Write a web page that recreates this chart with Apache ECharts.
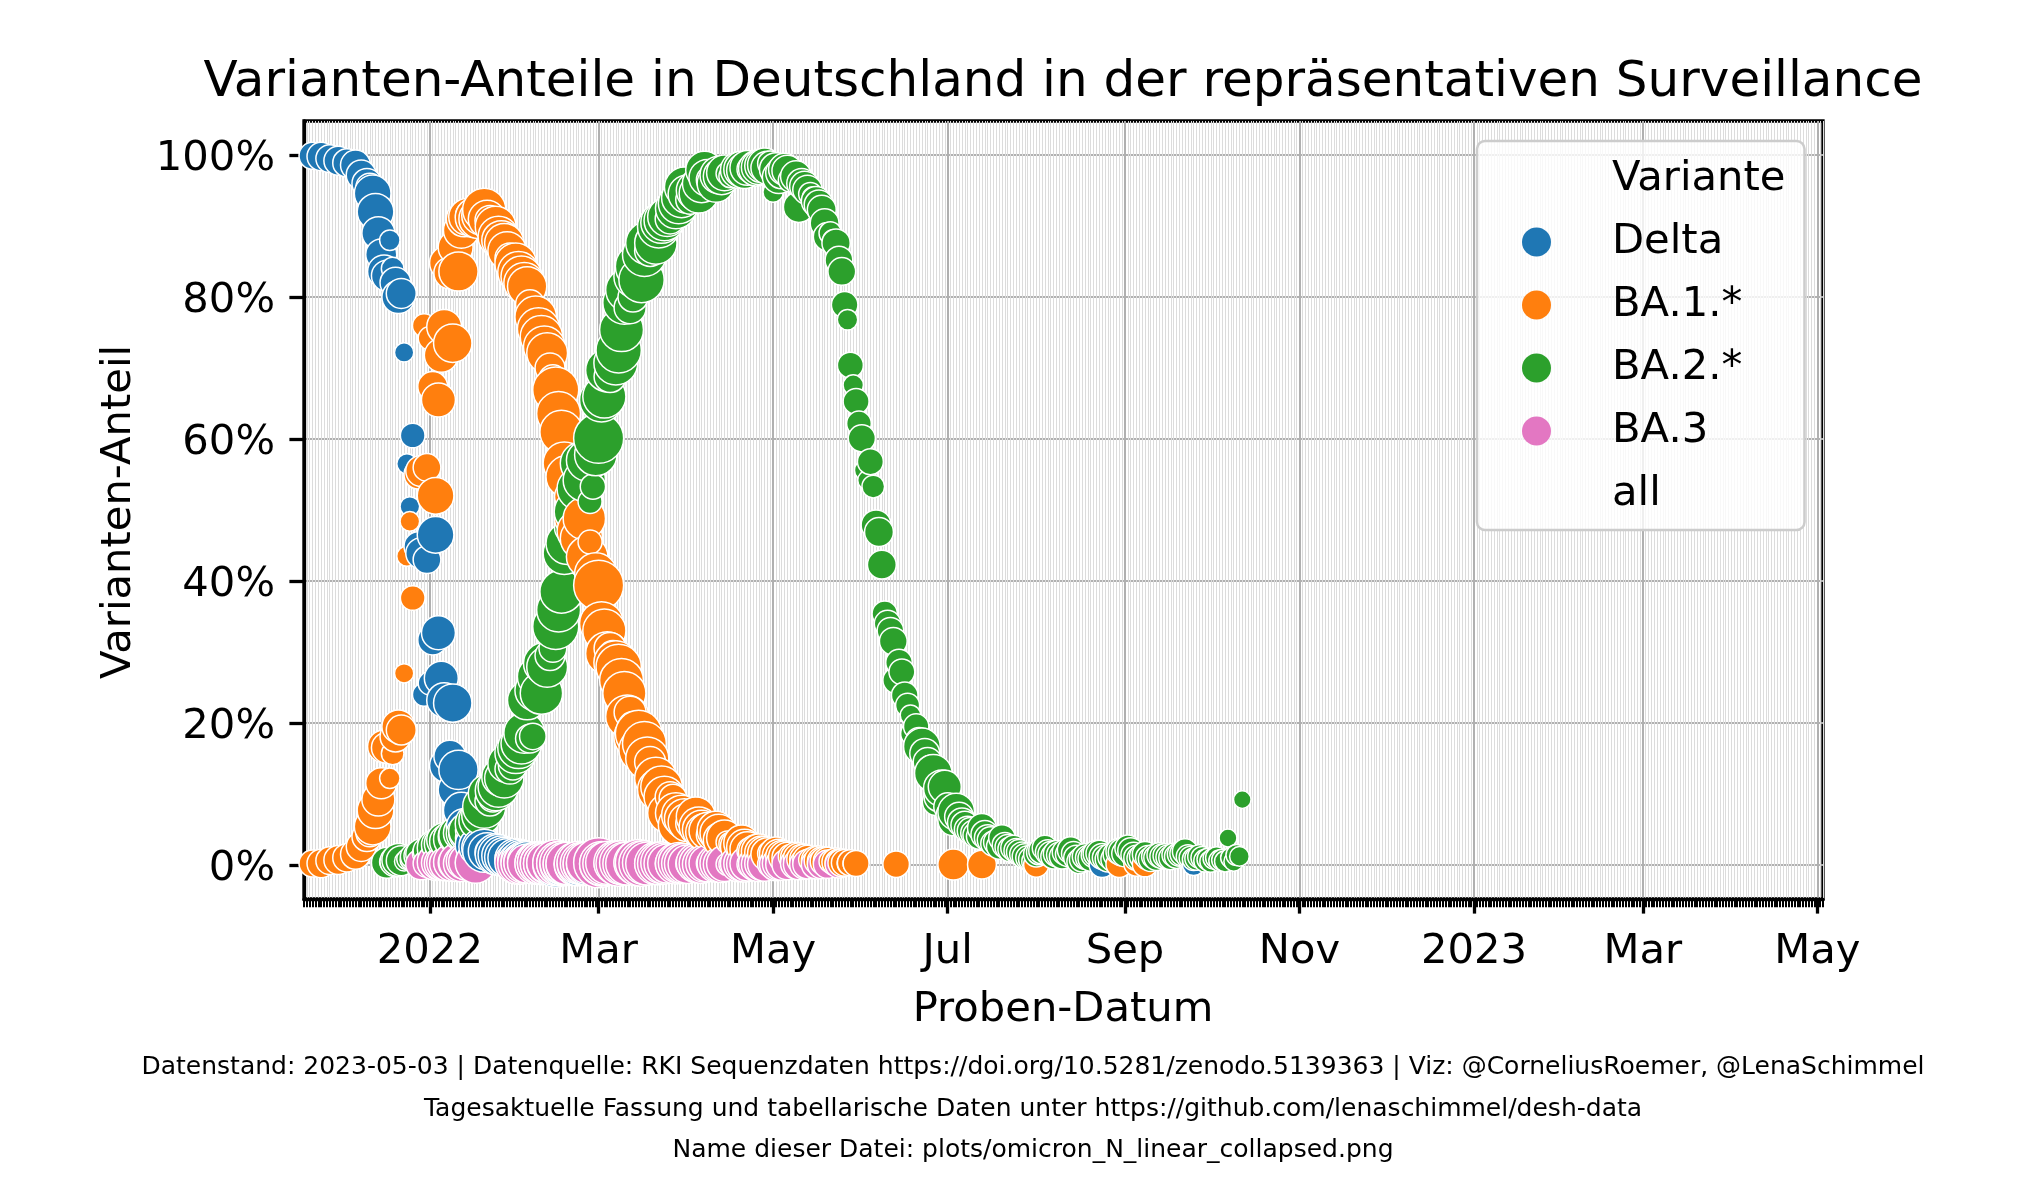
<!DOCTYPE html>
<html><head><meta charset="utf-8">
<script src="https://cdn.jsdelivr.net/npm/echarts@6.0.0/dist/echarts.min.js"></script>
<style>html,body{margin:0;padding:0;background:#fff}#c{width:2025px;height:1200px}</style>
</head><body><div id="c"></div>
<script>
// ---------- data (one entry per day, starting at firstDay; rows = weeks Sat..Fri) ----------
const firstDay = '2021-11-20';
const tickDates = ['2022-01-01','2022-03-01','2022-05-01','2022-07-01','2022-09-01','2022-11-01','2023-01-01','2023-03-01','2023-05-01'];
const tickLabels = ['2022','Mar','May','Jul','Sep','Nov','2023','Mar','May'];
const yTicks = [0, 20, 40, 60, 80, 100];
const variants = ['Delta', 'BA.1.*', 'BA.2.*', 'BA.3'];

// number of sequences per day ("all")
const allSeq = [
 750,750,750,850,850,750,750,
 800,650,850,900,900,850,850,
 700,650,1000,1100,1000,1000,1000,
 800,1700,1700,1300,1100,1300,1100,
 250,400,1100,1300,1000,180,250,
 200,550,250,900,1100,450,800,
 450,1000,1700,1400,1400,1500,1500,
 1200,1900,1500,2000,1600,1600,1700,
 900,800,2200,2000,2000,2500,1800,
 1000,900,2200,2200,2000,2000,1900,
 1000,900,2300,2300,2200,2200,2000,
 900,700,2300,2400,2400,2300,2200,
 1000,800,2900,2600,2500,2400,2400,
 1100,800,2500,2500,2400,2400,2300,
 500,600,2400,3500,2600,2500,2500,
 1200,1000,2600,2800,2600,2500,2500,
 1200,1000,2600,3000,2800,2600,2500,
 1100,900,2400,2400,2300,2200,2000,
 1000,800,2200,2200,2100,2100,1900,
 900,700,2000,2000,1900,1800,1700,
 800,600,1800,1800,1700,1600,400,
 400,300,300,1700,1600,1600,1500,
 700,500,1500,1500,1400,1400,1300,
 600,250,1300,1300,1200,1200,1100,
 500,400,1100,1100,1000,1000,950,
 450,350,950,950,900,900,850,
 400,300,850,800,800,700,250,
 650,250,650,550,750,250,200,
 650,400,1000,900,900,600,700,
 700,800,700,700,650,700,500,
 250,600,600,700,1700,1000,900,
 800,1800,800,1000,1700,1300,800,
 900,1100,1700,900,900,800,700,
 700,600,700,600,900,800,700,
 700,600,600,600,700,600,600,
 600,600,550,600,550,600,500,
 500,450,600,600,700,600,550,
 600,600,650,600,600,600,550,
 700,500,600,550,600,600,550,
 600,550,700,700,650,600,600,
 650,600,700,700,800,700,650,
 650,600,600,550,600,600,550,
 550,500,600,550,550,500,500,
 500,450,500,500,550,600,450,
 450,400,450,450,400,400,350,
 350,300,350,300,300,300,100,
 250,200,300,200,80,null,null
];

// share in percent, null = not plotted
const delta = [
 null,99.9,null,null,99.8,null,null,
 99.5,null,null,99.2,null,null,98.9,
 null,null,98.6,null,97.2,null,96.0,
 95.5,94.6,92.0,89.0,86.0,83.6,83.0,
 88.0,84.0,82.0,80.0,80.5,72.2,56.5,
 50.5,60.5,54.5,44.9,43.9,24.0,43.0,
 25.6,31.7,46.5,32.7,26.3,23.2,14.0,
 15.3,22.8,10.6,13.4,7.7,5.4,4.5,
 3.8,3.0,2.8,2.6,2.4,2.0,1.9,
 1.8,1.6,1.5,1.4,1.3,1.1,1.0,
 0.9,0.8,0.8,0.7,0.6,0.5,0.5,
 0.4,0.4,0.3,0.3,0.3,0.2,0.2,
 0.2,0.2,0.1,0.2,0.1,0.1,0.1,
 0.1,null,0.1,0.1,null,0.1,0.1,
 null,0.1,0.1,null,0.1,null,null,
 null,null,null,null,null,null,null,
 null,null,null,null,null,null,null,
 null,null,null,null,null,null,null,
 null,null,null,null,null,null,null,
 null,null,null,null,null,null,null,
 null,null,null,null,null,null,null,
 null,null,null,null,null,null,null,
 null,null,null,null,null,null,null,
 null,null,null,null,null,null,null,
 null,null,null,null,null,null,null,
 null,null,null,null,null,null,null,
 null,null,null,null,null,null,null,
 null,null,null,null,null,null,null,
 null,null,null,null,null,null,null,
 null,null,null,null,null,null,null,
 null,null,null,null,null,null,null,
 null,null,null,null,null,null,null,
 null,null,null,null,null,null,null,
 null,null,null,null,null,null,null,
 null,null,null,null,null,null,null,
 null,null,null,null,null,null,null,
 null,null,null,null,null,null,null,
 null,null,null,null,null,null,null,
 null,null,null,null,null,null,null,
 null,null,null,null,0.05,null,null,
 null,null,null,null,null,null,null,
 null,null,null,null,null,null,null,
 null,null,null,null,null,null,null,
 null,null,null,null,null,null,null,
 null,0.1,null,null,null,null,null,
 null,null,null,null,null,null,null,
 null,null,null,null,null,null,null
];

const ba1 = [
 null,0.2,null,null,0.2,null,null,
 0.6,null,null,0.7,null,null,1.0,
 null,null,1.5,null,2.6,null,4.0,
 4.5,5.4,7.7,9.2,11.5,16.7,16.5,
 12.2,15.7,18.1,19.5,19.0,27.0,43.5,
 48.4,37.6,45.0,55.0,55.5,76.0,56.0,
 74.2,67.4,52.0,65.5,71.8,75.8,84.8,
 83.4,73.5,87.0,83.6,89.4,91.0,91.3,
 91.5,91.8,91.2,91.0,91.5,92.3,91.0,
 90.8,90.5,89.9,88.5,88.0,87.6,86.5,
 85.5,85.0,84.7,83.5,82.9,82.0,81.5,
 79.0,78.0,77.2,75.5,74.4,73.0,72.1,
 70.0,68.5,66.9,63.6,61.0,56.6,54.7,
 51.9,50.5,49.0,47.0,46.0,48.8,43.4,
 45.5,41.5,41.0,39.4,34.0,33.0,29.8,
 30.5,29.5,28.5,27.9,26.0,24.2,20.9,
 21.5,19.5,18.0,18.5,16.2,17.1,15.0,
 14.5,12.0,12.2,10.6,11.0,9.6,7.3,
 9.6,9.4,7.3,5.6,7.0,6.5,6.0,
 5.8,7.3,6.8,5.4,5.0,4.6,4.8,
 4.2,4.0,4.9,4.5,3.5,3.8,3.2,
 3.0,2.8,2.1,2.6,3.1,2.5,2.2,
 2.0,1.9,1.8,1.9,1.7,1.6,1.5,
 1.6,1.4,1.6,1.3,1.2,1.1,1.0,
 1.2,1.2,1.0,0.9,0.8,0.8,0.7,
 0.7,0.7,0.6,0.6,0.5,0.5,0.5,
 0.5,0.4,0.4,0.3,0.3,0.3,0.3,
 0.3,0.2,0.2,null,null,null,null,
 null,null,null,null,null,null,null,
 null,null,0.1,null,null,null,null,
 null,null,null,null,null,null,null,
 null,null,null,null,null,null,null,
 null,0.05,null,null,null,null,null,
 null,null,null,null,0.05,null,null,
 null,null,null,null,null,null,null,
 null,null,null,null,null,null,null,
 null,null,0.05,null,null,null,null,
 null,null,null,null,null,null,null,
 null,null,null,null,null,null,null,
 null,null,null,null,null,null,null,
 null,null,null,0.1,null,null,null,
 null,null,0.2,null,null,0.1,null,
 null,null,null,null,null,null,null,
 null,null,null,null,null,null,null,
 null,null,null,null,null,null,null,
 null,null,null,null,null,null,null,
 null,null,null,null,null,null,null
];

const ba2 = [
 null,null,null,null,null,null,null,
 null,null,null,null,null,null,null,
 null,null,null,null,null,null,null,
 null,null,null,null,null,null,0.3,
 0.4,0.6,0.5,0.7,0.6,0.5,0.8,
 0.7,1.2,1.0,1.3,1.5,1.6,2.0,
 2.3,2.0,2.4,2.8,3.0,3.5,3.3,
 3.8,3.6,4.0,4.2,4.5,4.4,4.8,
 4.9,5.2,5.8,6.3,7.0,8.2,10.1,
 9.0,9.5,10.5,11.0,12.4,12.2,14.3,
 13.5,14.0,15.8,16.5,17.1,18.6,23.2,
 17.8,18.1,24.6,26.5,24.2,28.4,27.9,
 29.5,30.5,33.6,35.9,38.5,43.9,45.3,
 47.5,50.0,49.8,53.0,56.6,54.2,57.0,
 51.2,53.3,57.8,60.1,65.5,66.0,69.7,
 68.8,70.2,70.7,72.5,75.4,79.2,81.0,
 78.5,80.0,82.9,84.3,82.4,86.0,87.6,
 86.5,88.5,87.6,89.9,90.5,90.8,91.3,
 91.0,92.3,92.5,93.2,94.0,95.5,94.5,
 93.7,94.2,95.0,94.6,96.0,97.9,96.8,
 96.5,97.0,96.0,97.2,97.0,97.5,97.4,
 97.0,97.8,97.6,97.9,98.0,97.8,98.2,
 98.0,98.4,98.1,98.3,98.5,98.6,98.2,
 98.8,94.8,98.0,96.9,97.5,98.0,97.8,
 96.5,96.9,97.0,92.7,96.0,95.6,95.1,
 94.5,94.0,93.5,93.0,92.3,90.4,88.5,
 89.0,88.0,87.6,85.2,83.6,78.9,76.8,
 70.4,67.6,65.3,62.2,60.1,55.6,54.2,
 56.8,53.3,47.9,46.9,42.3,35.4,34.0,
 33.0,31.5,26.0,28.5,27.2,23.9,22.5,
 21.1,18.5,19.5,17.5,16.7,15.7,14.5,
 13.5,12.9,8.9,9.6,10.8,11.0,8.2,
 7.0,6.3,7.5,6.8,6.0,5.6,5.0,
 4.8,4.5,4.2,4.0,5.2,4.3,3.8,
 3.5,3.0,3.2,2.6,3.8,2.8,2.5,
 2.2,2.4,2.0,1.8,1.5,1.2,1.0,
 0.8,0.5,1.5,1.8,2.0,2.4,1.8,
 1.5,1.2,1.6,1.4,1.2,1.8,1.5,
 2.1,1.6,1.0,0.5,0.8,1.2,1.0,
 0.9,1.4,1.6,1.6,1.2,1.0,0.8,
 1.2,0.8,1.5,1.9,1.8,1.6,2.4,
 2.0,1.4,1.0,0.9,1.2,1.5,1.0,
 0.8,1.2,1.0,1.4,1.2,1.3,1.1,
 1.0,1.4,1.2,1.5,1.6,1.9,1.2,
 1.0,0.8,0.9,1.2,1.0,0.6,0.8,
 0.5,0.9,1.0,0.6,0.7,0.5,3.8,
 1.0,0.5,1.4,1.2,9.2,null,null
];

const ba3 = [
 null,null,null,null,null,null,null,
 null,null,null,null,null,null,null,
 null,null,null,null,null,null,null,
 null,null,null,null,null,null,null,
 null,null,null,null,null,null,null,
 null,null,null,null,0.1,null,0.2,
 0.3,0.2,0.4,0.3,0.2,0.3,0.2,
 0.3,0.4,0.3,0.4,0.2,0.5,0.4,
 0.3,0.2,0.3,null,null,null,null,
 null,null,null,null,null,null,null,
 null,null,0.3,0.2,0.2,0.3,0.2,
 0.2,0.1,0.2,0.3,0.2,0.2,0.3,
 0.2,0.2,0.3,0.2,0.3,0.2,0.2,
 0.1,0.2,0.2,0.3,0.2,0.2,0.3,
 0.2,0.1,0.2,0.3,0.2,0.2,0.3,
 0.2,0.2,0.3,0.2,0.3,0.2,0.2,
 0.3,0.2,0.3,0.3,0.2,0.3,0.2,
 0.2,0.3,0.2,0.2,0.3,0.2,0.2,
 0.2,0.3,0.2,0.3,0.2,0.2,0.1,
 0.2,0.2,0.3,0.2,0.1,0.2,0.2,
 0.2,0.1,0.2,0.2,0.1,0.2,0.1,
 0.1,0.2,0.1,0.2,0.2,0.1,0.2,
 0.1,null,0.2,0.1,0.2,0.1,null,
 0.1,null,0.1,0.2,0.1,null,0.1,
 null,0.1,0.2,0.1,null,0.1,0.1,
 null,0.1,0.1,null,0.1,null,0.1,
 null,0.1,null,0.1,null,null,0.1
];

// ---------- chart ----------
const DAY = 86400000;
const FONT = '"DejaVu Sans", "Liberation Sans", sans-serif';
const colors = ['#1f77b4', '#ff7f0e', '#2ca02c', '#e377c2'];
const t0 = Date.parse(firstDay);
const xMin = Date.parse('2021-11-18');
const xMax = Date.parse('2023-05-03');
const tickMs = tickDates.map(d => Date.parse(d));
const labelOf = {};
tickMs.forEach((t, i) => { labelOf[t] = tickLabels[i]; });
const seriesValues = [delta, ba1, ba2, ba3];

// marker diameter from number of sequences (area grows linearly with count)
const D_MIN = 16, D_MAX = 50, C_MAX = 3500;
function sizeOf(c) { return Math.sqrt(D_MIN * D_MIN + Math.min(c, C_MAX) / C_MAX * (D_MAX * D_MAX - D_MIN * D_MIN)); }

// all points in date order (variants in hue order within a day), like one scatter call
const allPoints = [];
for (let i = 0; i < allSeq.length; i++) {
  seriesValues.forEach((arr, k) => {
    const v = arr[i];
    if (v !== null && v !== undefined) allPoints.push([t0 + i * DAY, v, allSeq[i], k]);
  });
}

const chart = echarts.init(document.getElementById('c'), null, { renderer: 'canvas', width: 2025, height: 1200 });

const series = [{ name: 'Variante', type: 'scatter', xAxisIndex: 1, data: [] }];
variants.forEach((name, k) => {
  series.push({ name, type: 'scatter', xAxisIndex: 1, data: [], itemStyle: { color: colors[k], opacity: 1 } });
});
series.push({ name: 'all', type: 'scatter', xAxisIndex: 1, data: [] });
series.push({
  name: 'points', type: 'scatter', xAxisIndex: 1, yAxisIndex: 0,
  data: allPoints,
  symbol: 'circle',
  symbolSize: v => sizeOf(v[2]),
  itemStyle: { color: p => colors[p.value[3]], borderColor: '#ffffff', borderWidth: 1.5, opacity: 1 },
  emphasis: { disabled: true },
  progressive: 0, large: false, animation: false
});

const option = {
  animation: false,
  backgroundColor: '#ffffff',
  grid: { left: 304, right: 202, top: 121, bottom: 301, show: true, borderColor: '#000', borderWidth: 3.3, backgroundColor: '#ffffff', containLabel: false },
  xAxis: [
    { type: 'value', min: xMin, max: xMax, interval: DAY, position: 'bottom',
      axisLine: { show: false, onZero: false },
      axisLabel: { show: false },
      axisTick: { show: true, length: 8.3, lineStyle: { color: '#000', width: 2 } },
      splitLine: { show: true, lineStyle: { color: '#dcdcdc', width: 1 } } },
    { type: 'value', min: xMin, max: xMax, position: 'bottom',
      axisLine: { show: true, onZero: false, lineStyle: { color: '#000', width: 3.3 } },
      axisTick: { show: true, customValues: tickMs, length: 14.6, lineStyle: { color: '#000', width: 3.3 } },
      axisLabel: { show: true, customValues: tickMs, formatter: v => labelOf[v] || '', margin: 32,
        fontSize: 41.7, fontFamily: FONT, color: '#000', lineHeight: 42 },
      splitLine: { show: true, lineStyle: { color: '#b0b0b0', width: 2 } } }
  ],
  yAxis: {
    type: 'value', min: -4.8, max: 104.8,
    axisLine: { show: true, onZero: false, lineStyle: { color: '#000', width: 3.3 } },
    axisTick: { show: true, customValues: yTicks, length: 14.6, lineStyle: { color: '#000', width: 3.3 } },
    axisLabel: { show: true, customValues: yTicks, formatter: v => v + '%', margin: 29,
      fontSize: 41.7, fontFamily: FONT, color: '#000', verticalAlign: 'top', lineHeight: 8 },
    splitLine: { show: true, lineStyle: { color: '#b0b0b0', width: 2 } }
  },
  legend: {
    orient: 'vertical', left: 1477, top: 141,
    padding: [17, 19, 15, 45],
    itemWidth: 29, itemHeight: 29, itemGap: 21,
    selectedMode: false,
    backgroundColor: 'rgba(255,255,255,0.8)', borderColor: '#cccccc', borderWidth: 2.5, borderRadius: 8,
    itemStyle: { borderWidth: 0, opacity: 1 },
    textStyle: { fontSize: 41.7, fontFamily: FONT, color: '#000', lineHeight: 42, padding: [0, 0, 0, 56] },
    data: [{ name: 'Variante', icon: 'none' }].concat(variants.map(n => ({ name: n, icon: 'circle' }))).concat([{ name: 'all', icon: 'none' }])
  },
  graphic: [
    { type: 'text', x: 1063, y: 83, style: { text: 'Varianten-Anteile in Deutschland in der repräsentativen Surveillance', fontSize: 50, fontFamily: FONT, fill: '#000', align: 'center', verticalAlign: 'middle' } },
    { type: 'text', x: 119, y: 512, rotation: Math.PI / 2, style: { text: 'Varianten-Anteil', fontSize: 41.7, fontFamily: FONT, fill: '#000', align: 'center', verticalAlign: 'middle' } },
    { type: 'text', x: 1063, y: 1010, style: { text: 'Proben-Datum', fontSize: 41.7, fontFamily: FONT, fill: '#000', align: 'center', verticalAlign: 'middle' } },
    { type: 'text', x: 1033, y: 1067, style: { text: 'Datenstand: 2023-05-03 | Datenquelle: RKI Sequenzdaten https://doi.org/10.5281/zenodo.5139363 | Viz: @CorneliusRoemer, @LenaSchimmel', fontSize: 25, fontFamily: FONT, fill: '#000', align: 'center', verticalAlign: 'middle' } },
    { type: 'text', x: 1033, y: 1109, style: { text: 'Tagesaktuelle Fassung und tabellarische Daten unter https://github.com/lenaschimmel/desh-data', fontSize: 25, fontFamily: FONT, fill: '#000', align: 'center', verticalAlign: 'middle' } },
    { type: 'text', x: 1033, y: 1150, style: { text: 'Name dieser Datei: plots/omicron_N_linear_collapsed.png', fontSize: 25, fontFamily: FONT, fill: '#000', align: 'center', verticalAlign: 'middle' } }
  ],
  series
};
chart.setOption(option);
</script>
</body></html>
